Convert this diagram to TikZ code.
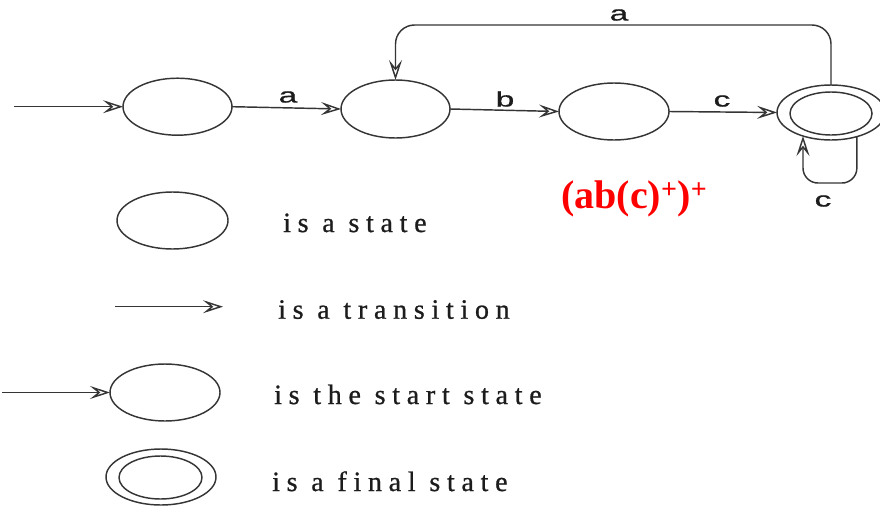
\documentclass[tikz,border=0pt]{standalone}
\usepackage{graphicx}
\usepackage{fontspec}
\setmainfont{Liberation Serif}
\newfontfamily\lblfont[FakeBold=0.6]{Liberation Sans}
\newfontfamily\legfont[LetterSpace=24,FakeBold=0.8]{Liberation Serif}
\usetikzlibrary{arrows.meta,shapes.geometric}
\definecolor{ink}{HTML}{353535}
\definecolor{txt}{HTML}{1C1C1C}
\definecolor{redx}{HTML}{FF0000}
\begin{document}
\begin{tikzpicture}[x=1pt,y=-1pt,
  st/.style={draw=ink, line width=1.45pt, ellipse, inner sep=0pt, outer sep=0pt},
  tr/.style={draw=ink, line width=1.45pt, -{Stealth[open,length=20pt,width=13pt,inset=8pt]}},
  lbl/.style={font=\lblfont\fontsize{21}{21}\selectfont, inner sep=0pt, text=txt},
  leg/.style={font=\legfont\fontsize{28}{28}\selectfont, anchor=base west, inner sep=0pt, text=txt}
]
\useasboundingbox[fill=white] (0,0) rectangle (880,506);

% top row states
\node[st, minimum width=109pt, minimum height=57pt] (s1) at (177.5,106.7) {};
\node[st, minimum width=109pt, minimum height=58pt] (s2) at (395.5,109) {};
\node[st, minimum width=110pt, minimum height=57pt] (s3) at (614,111.5) {};
\node[st, minimum width=108pt, minimum height=55pt] (fin) at (831,112.5) {};
\node[st, minimum width=82pt, minimum height=43pt] (fini) at (831,113.5) {};

\coordinate (in) at (14,106.7);
\coordinate (topc) at (600,25);
\coordinate (loopb) at (830,183);

\draw[tr] (in) -- (s1.west);
\draw[tr] (s1.east) -- (s2.west);
\draw[tr] (s2.east) -- (s3.west);
\draw[tr] (s3.east) -- (fin.west);
\draw[tr, rounded corners=19pt] (fin.north) |- (topc) -| (s2.north);
\draw[tr, rounded corners=15pt] (fin.-43) |- (loopb) -| (fin.-140);

\node[lbl] (la1) at (288,97) {\scalebox{1.6}[1]{a}};
\node[lbl] (lb) at (505,99) {\scalebox{1.6}[1]{b}};
\node[lbl] (lc1) at (722,101) {\scalebox{1.6}[1]{c}};
\node[lbl] (la2) at (619,15) {\scalebox{1.6}[1]{a}};
\node[lbl] (lc2) at (823,201) {\scalebox{1.6}[1]{c}};

\node[anchor=base west, inner sep=0pt, text=redx, font=\bfseries\fontsize{40}{40}\selectfont] (re) at (561,208) {(ab(c)\textsuperscript{+})\textsuperscript{+}};

% legend
\node[st, minimum width=111pt, minimum height=57pt] (lst) at (172.5,220.5) {};
\node[leg] (t1) at (283,232) {is a state};

\coordinate (ta) at (115,306.7);
\coordinate (tb) at (223,306.7);
\draw[tr] (ta) -- (tb);
\node[leg] (t2) at (278,318.7) {is a transition};

\node[st, minimum width=110pt, minimum height=57pt] (lss) at (165,392.5) {};
\coordinate (lin) at (2,392.5);
\draw[tr] (lin) -- (lss.west);
\node[leg] (t3) at (274,404) {is the start state};

\node[st, minimum width=110pt, minimum height=56pt] (lf) at (161,477) {};
\node[st, minimum width=83pt, minimum height=43pt] (lfi) at (160.5,477.5) {};
\node[leg] (t4) at (272,491) {is a final state};
\end{tikzpicture}
\end{document}
